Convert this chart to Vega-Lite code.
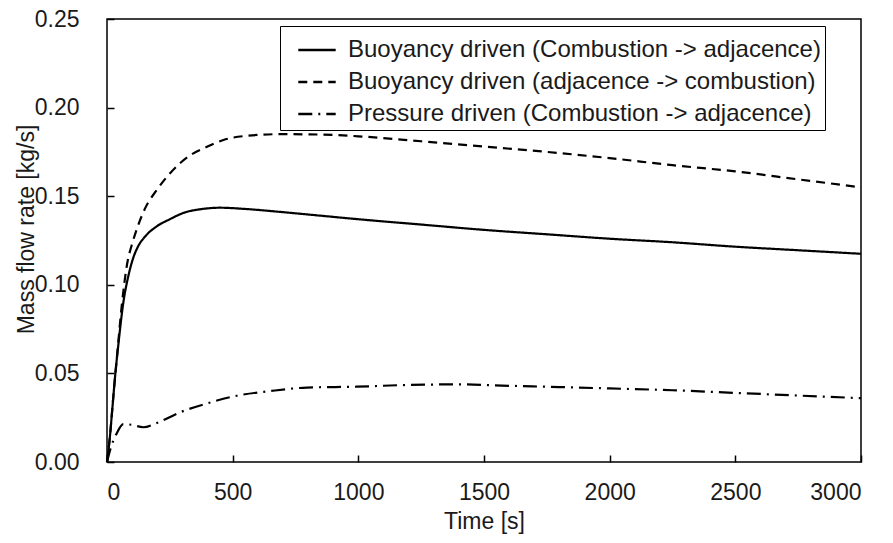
{
  "$schema": "https://vega.github.io/schema/vega-lite/v6.json",
  "width": 754,
  "height": 443,
  "autosize": "none",
  "padding": {"left": 107, "top": 19, "right": 32, "bottom": 81},
  "background": "white",
  "config": {
    "font": "Liberation Sans",
    "view": {"stroke": "black", "strokeWidth": 1.5},
    "axis": {"grid": false, "domain": false, "labelFont": "Liberation Sans", "titleFont": "Liberation Sans", "labelFontSize": 23, "titleFontSize": 23, "titleFontWeight": "normal", "labelColor": "#1a1a1a", "titleColor": "#1a1a1a", "tickColor": "black", "tickWidth": 1.5, "tickSize": -7}
  },
  "data": {"values": [
    {"t":0,"v":0,"s":"A"},{"t":10,"v":0.012,"s":"A"},{"t":20,"v":0.028,"s":"A"},{"t":32,"v":0.048,"s":"A"},{"t":45,"v":0.066,"s":"A"},{"t":65,"v":0.09,"s":"A"},{"t":85,"v":0.105,"s":"A"},{"t":104,"v":0.115,"s":"A"},{"t":125,"v":0.122,"s":"A"},{"t":150,"v":0.127,"s":"A"},{"t":198,"v":0.133,"s":"A"},{"t":250,"v":0.137,"s":"A"},{"t":303,"v":0.1405,"s":"A"},{"t":380,"v":0.1428,"s":"A"},{"t":450,"v":0.1435,"s":"A"},{"t":550,"v":0.1428,"s":"A"},{"t":700,"v":0.141,"s":"A"},{"t":850,"v":0.139,"s":"A"},{"t":1000,"v":0.137,"s":"A"},{"t":1250,"v":0.134,"s":"A"},{"t":1500,"v":0.131,"s":"A"},{"t":1750,"v":0.1285,"s":"A"},{"t":2000,"v":0.126,"s":"A"},{"t":2250,"v":0.124,"s":"A"},{"t":2500,"v":0.1215,"s":"A"},{"t":2750,"v":0.1195,"s":"A"},{"t":3000,"v":0.1175,"s":"A"},
    {"t":0,"v":0,"s":"B"},{"t":12,"v":0.015,"s":"B"},{"t":24,"v":0.035,"s":"B"},{"t":40,"v":0.06,"s":"B"},{"t":60,"v":0.09,"s":"B"},{"t":78,"v":0.11,"s":"B"},{"t":104,"v":0.125,"s":"B"},{"t":125,"v":0.134,"s":"B"},{"t":151,"v":0.143,"s":"B"},{"t":198,"v":0.1535,"s":"B"},{"t":251,"v":0.163,"s":"B"},{"t":330,"v":0.173,"s":"B"},{"t":400,"v":0.178,"s":"B"},{"t":463,"v":0.1817,"s":"B"},{"t":550,"v":0.184,"s":"B"},{"t":689,"v":0.185,"s":"B"},{"t":850,"v":0.1848,"s":"B"},{"t":1000,"v":0.1838,"s":"B"},{"t":1250,"v":0.181,"s":"B"},{"t":1500,"v":0.178,"s":"B"},{"t":1750,"v":0.175,"s":"B"},{"t":2000,"v":0.1715,"s":"B"},{"t":2250,"v":0.1675,"s":"B"},{"t":2500,"v":0.164,"s":"B"},{"t":2750,"v":0.1595,"s":"B"},{"t":3000,"v":0.155,"s":"B"},
    {"t":0,"v":0,"s":"C"},{"t":15,"v":0.008,"s":"C"},{"t":38,"v":0.016,"s":"C"},{"t":65,"v":0.0214,"s":"C"},{"t":97,"v":0.021,"s":"C"},{"t":145,"v":0.0196,"s":"C"},{"t":198,"v":0.022,"s":"C"},{"t":290,"v":0.028,"s":"C"},{"t":397,"v":0.033,"s":"C"},{"t":516,"v":0.0374,"s":"C"},{"t":648,"v":0.04,"s":"C"},{"t":795,"v":0.042,"s":"C"},{"t":993,"v":0.0425,"s":"C"},{"t":1200,"v":0.0435,"s":"C"},{"t":1400,"v":0.0438,"s":"C"},{"t":1600,"v":0.043,"s":"C"},{"t":1800,"v":0.0423,"s":"C"},{"t":2000,"v":0.0415,"s":"C"},{"t":2250,"v":0.0405,"s":"C"},{"t":2500,"v":0.039,"s":"C"},{"t":2750,"v":0.0375,"s":"C"},{"t":3000,"v":0.036,"s":"C"}
  ]},
  "transform": [
    {"lookup": "s", "from": {"data": {"values": [
      {"s":"A","name":"Buoyancy driven (Combustion -> adjacence)"},
      {"s":"B","name":"Buoyancy driven (adjacence -> combustion)"},
      {"s":"C","name":"Pressure driven (Combustion -> adjacence)"}
    ]}, "key": "s", "fields": ["name"]}}
  ],
  "mark": {"type": "line", "color": "black", "strokeWidth": 2.2, "interpolate": "monotone"},
  "encoding": {
    "x": {"field": "t", "type": "quantitative", "title": "Time [s]", "scale": {"domain": [0, 3000], "nice": false}, "axis": {"values": [0,500,1000,1500,2000,2500,3000], "format": "d", "labelPadding": 26, "titlePadding": 6}},
    "y": {"field": "v", "type": "quantitative", "title": "Mass flow rate [kg/s]", "scale": {"domain": [0, 0.25], "nice": false}, "axis": {"values": [0,0.05,0.1,0.15,0.2,0.25], "format": ".2f", "labelPadding": 35, "titlePadding": -4, "titleY": 210}},
    "strokeDash": {"field": "name", "type": "nominal", "title": null,
      "scale": {"domain": ["Buoyancy driven (Combustion -> adjacence)", "Buoyancy driven (adjacence -> combustion)", "Pressure driven (Combustion -> adjacence)"], "range": [[1,0],[9,6],[14,6,2,6]]},
      "legend": {"orient": "none", "legendX": 173, "legendY": 7, "strokeColor": "black", "fillColor": "white", "padding": 4, "symbolOffset": 13, "symbolType": "stroke", "symbolSize": 1400, "symbolStrokeWidth": 2.5, "symbolStrokeColor": "black", "symbolDash": [], "labelFontSize": 24, "labelFont": "Liberation Sans", "labelColor": "#1a1a1a", "labelOffset": 11, "rowPadding": 0, "labelLimit": 700}},
    "order": {"field": "t", "type": "quantitative"}
  }
}
